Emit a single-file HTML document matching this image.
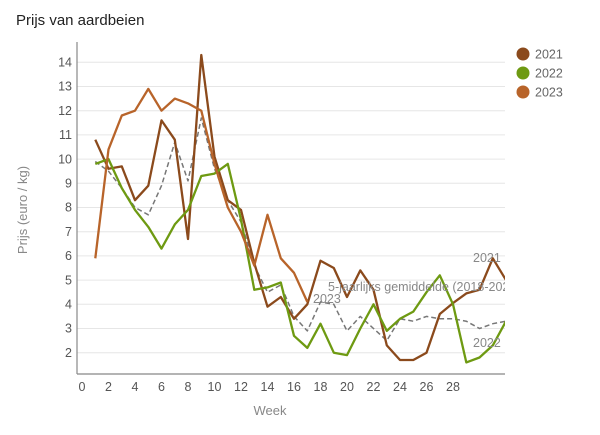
<!DOCTYPE html><html><head><meta charset="utf-8"><style>body{margin:0;background:#fff}svg{display:block;font-family:"Liberation Sans",sans-serif}</style></head><body>
<svg width="600" height="435" viewBox="0 0 600 435">
<text x="16" y="25" font-size="15" fill="#222">Prijs van aardbeien</text>
<g stroke="#e6e6e6" stroke-width="1">
<line x1="77" x2="505" y1="62.3" y2="62.3"/><line x1="77" x2="505" y1="86.5" y2="86.5"/><line x1="77" x2="505" y1="110.7" y2="110.7"/><line x1="77" x2="505" y1="134.9" y2="134.9"/><line x1="77" x2="505" y1="159.1" y2="159.1"/><line x1="77" x2="505" y1="183.3" y2="183.3"/><line x1="77" x2="505" y1="207.5" y2="207.5"/><line x1="77" x2="505" y1="231.7" y2="231.7"/><line x1="77" x2="505" y1="255.9" y2="255.9"/><line x1="77" x2="505" y1="280.1" y2="280.1"/><line x1="77" x2="505" y1="304.3" y2="304.3"/><line x1="77" x2="505" y1="328.5" y2="328.5"/><line x1="77" x2="505" y1="352.7" y2="352.7"/>
</g>
<g stroke="#888" stroke-width="1.2"><line x1="77" x2="77" y1="42" y2="374"/><line x1="77" x2="505" y1="374" y2="374"/></g>
<g font-size="12.5" fill="#555" text-anchor="end">
<text x="72" y="66.5">14</text><text x="72" y="90.7">13</text><text x="72" y="114.9">12</text><text x="72" y="139.1">11</text><text x="72" y="163.3">10</text><text x="72" y="187.5">9</text><text x="72" y="211.7">8</text><text x="72" y="235.9">7</text><text x="72" y="260.1">6</text><text x="72" y="284.3">5</text><text x="72" y="308.5">4</text><text x="72" y="332.7">3</text><text x="72" y="356.9">2</text>
</g>
<g font-size="12.5" fill="#555" text-anchor="middle">
<text x="82" y="391">0</text><text x="108.5" y="391">2</text><text x="135" y="391">4</text><text x="161.5" y="391">6</text><text x="188" y="391">8</text><text x="214.5" y="391">10</text><text x="241" y="391">12</text><text x="267.5" y="391">14</text><text x="294" y="391">16</text><text x="320.5" y="391">18</text><text x="347" y="391">20</text><text x="373.5" y="391">22</text><text x="400" y="391">24</text><text x="426.5" y="391">26</text><text x="453" y="391">28</text>
</g>
<text x="270" y="415" font-size="13" fill="#888" text-anchor="middle">Week</text>
<text transform="translate(27,210) rotate(-90)" font-size="13" fill="#888" text-anchor="middle">Prijs (euro / kg)</text>
<defs><clipPath id="c"><rect x="77" y="30" width="428" height="344"/></clipPath></defs>
<g clip-path="url(#c)" fill="none" stroke-linejoin="round">
<polyline id="avg" stroke="#777" stroke-width="1.5" stroke-dasharray="5,3" points=""/>
<polyline id="l21" stroke="#8b4a1c" stroke-width="2.3" points=""/>
<polyline id="l22" stroke="#6e9a12" stroke-width="2.3" points=""/>
<polyline id="l23" stroke="#b8642a" stroke-width="2.3" points=""/>
<text x="328" y="291" font-size="12.5" fill="#888" stroke="none">5-jaarlijks gemiddelde (2018-2022)</text>
<text x="473" y="262" font-size="12.5" fill="#888" stroke="none">2021</text>
<text x="473" y="347" font-size="12.5" fill="#888" stroke="none">2022</text>
</g>
<text x="313" y="303" font-size="12.5" fill="#888">2023</text>
<g font-size="12.5" fill="#666">
<circle cx="523" cy="54" r="6.5" fill="#8b4a1c"/><text x="535" y="58.5">2021</text>
<circle cx="523" cy="73" r="6.5" fill="#6e9a12"/><text x="535" y="77.5">2022</text>
<circle cx="523" cy="92" r="6.5" fill="#b8642a"/><text x="535" y="96.5">2023</text>
</g>
<script>
function P(a){return a.map((v,i)=>(82+(i+1)*13.25).toFixed(1)+","+(352.7-(v-2)*24.2).toFixed(1)).join(" ")}
document.getElementById("avg").setAttribute("points",P([9.9,9.5,8.8,8.0,7.7,8.9,10.7,9.1,11.7,9.6,8.3,7.4,5.6,4.5,4.8,3.5,2.9,4.1,4.0,2.9,3.5,3.0,2.5,3.4,3.3,3.5,3.4,3.4,3.3,3.0,3.2,3.3]));
document.getElementById("l21").setAttribute("points",P([10.8,9.6,9.7,8.3,8.9,11.6,10.8,6.7,14.3,10.1,8.3,7.9,5.7,3.9,4.3,3.4,4.0,5.8,5.5,4.3,5.4,4.6,2.3,1.7,1.7,2.0,3.6,4.05,4.45,4.6,5.9,5.0]));
document.getElementById("l22").setAttribute("points",P([9.8,10.0,8.8,7.9,7.2,6.3,7.3,7.9,9.3,9.4,9.8,7.5,4.6,4.7,4.9,2.7,2.2,3.2,2.0,1.9,3.0,4.0,2.9,3.4,3.7,4.5,5.2,4.0,1.6,1.8,2.3,3.3]));
document.getElementById("l23").setAttribute("points",P([5.9,10.4,11.8,12.0,12.9,12.0,12.5,12.3,12.0,9.8,8.0,7.0,5.6,7.7,5.9,5.3,4.1]));
</script>
</svg></body></html>
